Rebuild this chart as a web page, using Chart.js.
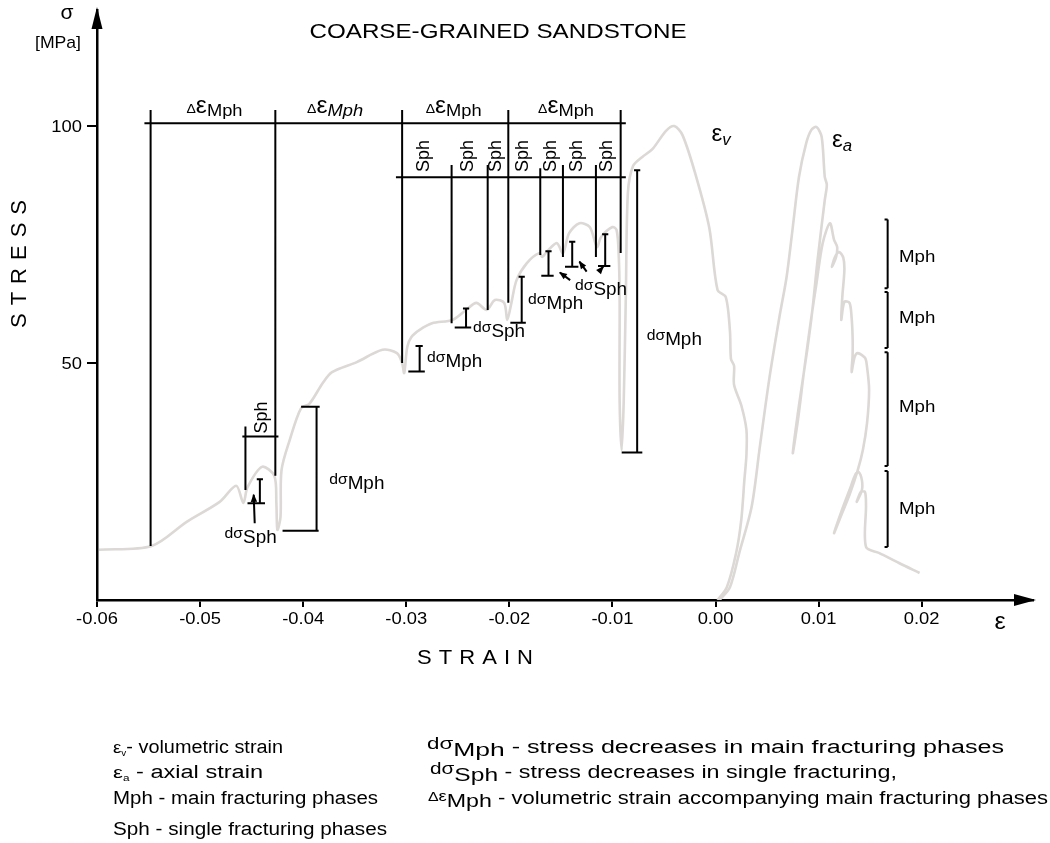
<!DOCTYPE html>
<html>
<head>
<meta charset="utf-8">
<script src="https://cdn.jsdelivr.net/npm/chart.js@4.4.1/dist/chart.umd.min.js"></script>
<style>
  html, body { margin: 0; padding: 0; background: #fff; }
</style>
</head>
<body>
<canvas id="chart" width="1050" height="843"></canvas>
<script>
// ---------- axis ticks ----------
const xTicks = [-0.06, -0.05, -0.04, -0.03, -0.02, -0.01, 0, 0.01, 0.02];
const yTicks = [50, 100];

// ---------- volumetric strain curve (εv) ----------
const evStrain = [-0.0598, -0.0547, -0.0513, -0.0481, -0.0465, -0.0458, -0.0454, -0.0440, -0.0428, -0.0426,
  -0.0425, -0.0422, -0.0421, -0.0413, -0.0402, -0.0394, -0.0381, -0.0372, -0.0348, -0.0323,
  -0.0309, -0.0304, -0.0302, -0.0299, -0.0295, -0.0287, -0.0275, -0.0255, -0.0242, -0.0232,
  -0.0222, -0.0214, -0.0205, -0.0202, -0.0198, -0.0193, -0.0183, -0.0171, -0.0168, -0.0164,
  -0.0154, -0.0148, -0.0142, -0.0132, -0.0122, -0.0115, -0.0111, -0.0100, -0.0096, -0.0094,
  -0.0093, -0.0093, -0.0091, -0.0089, -0.0087, -0.0085, -0.0080, -0.0071, -0.0061, -0.0048,
  -0.0040, -0.0032, -0.0019, -0.0006, 0.0002, 0.0010, 0.0014, 0.0015, 0.0018, 0.0018,
  0.0025, 0.0030, 0.0030, 0.0028, 0.0025, 0.0020, 0.0011, 0.0002];
const evStress = [10.6, 11.4, 16.5, 20.7, 24.1, 20.5, 23.8, 28.1, 26.2, 20.5,
  14.8, 17.5, 27.4, 33.8, 40.5, 41.4, 45.8, 48.1, 50.2, 52.8,
  52.1, 50.0, 47.9, 53.4, 55.5, 57.0, 58.4, 59.1, 61.2, 62.7,
  61.2, 63.3, 62.7, 59.1, 62.7, 67.5, 71.1, 73.2, 72.4, 73.4,
  75.3, 73.2, 77.4, 79.5, 78.7, 74.5, 76.6, 78.7, 78.1, 73.4,
  63.9, 42.2, 31.6, 42.2, 63.9, 85.9, 91.6, 93.5, 95.2, 99.0,
  100.0, 98.1, 89.5, 78.5, 65.4, 63.9, 56.8, 50.9, 49.4, 45.4,
  41.1, 35.9, 30.6, 25.3, 16.9, 9.9, 2.7, 0];

// ---------- axial strain curve (εa) ----------
const eaStrain = [0.0004, 0.0014, 0.0023, 0.0035, 0.0043, 0.0052, 0.0062, 0.0069, 0.0075, 0.0081,
  0.0088, 0.0093, 0.0098, 0.0103, 0.0106, 0.0108, 0.0106, 0.0099, 0.0094, 0.0089,
  0.0081, 0.0075, 0.0080, 0.0086, 0.0093, 0.0098, 0.0104, 0.0111, 0.0115, 0.0118,
  0.0117, 0.0113, 0.0116, 0.0120, 0.0124, 0.0125, 0.0123, 0.0122, 0.0125, 0.0130,
  0.0132, 0.0133, 0.0133, 0.0132, 0.0135, 0.0138, 0.0145, 0.0147, 0.0149, 0.0147,
  0.0143, 0.0138, 0.0130, 0.0122, 0.0115, 0.0122, 0.0130, 0.0136, 0.0139, 0.0142,
  0.0142, 0.0137, 0.0141, 0.0145, 0.0146, 0.0146, 0.0159, 0.0178, 0.0198];
const eaStress = [0, 2.7, 9.9, 19.6, 32.3, 46.4, 59.7, 68.2, 78.7, 89.3,
  96.4, 99.2, 99.8, 97.7, 89.3, 87.6, 84.4, 71.7, 61.2, 52.8,
  41.1, 31.0, 38.0, 48.5, 59.7, 66.9, 75.3, 79.5, 76.0, 74.5,
  72.4, 70.3, 72.4, 73.4, 72.2, 69.6, 63.9, 59.1, 62.9, 62.7,
  59.7, 55.5, 51.7, 48.1, 51.3, 52.1, 51.1, 49.2, 44.3, 37.3,
  31.7, 27.4, 22.2, 17.9, 14.1, 18.6, 23.2, 26.6, 27.0, 25.3,
  23.2, 20.7, 22.8, 22.8, 20.0, 11.2, 9.9, 7.8, 5.7];

// ---------- Δε Mph brackets along the top ----------
const dEpsBar = [-0.0554, -0.0087];
const dEpsBarStress = 100.6;
const dEpsEdges = [-0.0548, -0.0427, -0.0304, -0.0201, -0.0092];
const dEpsEdgeTop = 103.4;
const dEpsEdgeFoot = [11.4, 26.2, 50.0, 62.7, 73.2];
const dEpsLabelX = [-0.0486, -0.0369, -0.0254, -0.0145];
const dEpsLabelStress = 102.7;

// ---------- Sph (single fracturing) markers ----------
const sphBar = [-0.0310, -0.0087];
const sphBarStress = 89.2;
const sphEdges = [-0.0256, -0.0221, -0.0170, -0.0148, -0.0116];
const sphEdgeTop = [91.8, 91.8, 91.1, 91.8, 91.8];
const sphEdgeFoot = [58.4, 61.2, 72.8, 72.4, 72.4];
const sphLabelX = [-0.0284, -0.0241, -0.0214, -0.0188, -0.0161, -0.0135, -0.0106];
const sphLabelStress = 93.7;
const sphLeftBar = [-0.0459, -0.0424];
const sphLeftStress = 34.5;
const sphLeftEdge = -0.0456;
const sphLeftSpan = [36.6, 23.2];
const sphLeftLabel = [-0.0441, 38.5];

// ---------- stress drops dσ ----------
const dropStrain = [-0.0442, -0.0387, -0.0287, -0.0242, -0.0188, -0.0162, -0.0139, -0.0107, -0.0076];
const dropTop = [25.5, 40.8, 53.6, 61.5, 68.2, 73.6, 75.6, 77.2, 90.7];
const dropBottom = [20.4, 14.6, 48.2, 57.5, 58.5, 68.4, 70.3, 70.5, 31.1];
const dropCapFrom = [-0.0445, -0.0402, -0.0291, -0.0245, -0.0191, -0.0165, -0.0142, -0.0110, -0.0079];
const dropCapTo = [-0.0439, -0.0384, -0.0284, -0.0239, -0.0185, -0.0159, -0.0136, -0.0104, -0.0073];
const dropFootFrom = [-0.0454, -0.0420, -0.0298, -0.0253, -0.0199, -0.0169, -0.0146, -0.0114, -0.0091];
const dropFootTo = [-0.0437, -0.0385, -0.0282, -0.0237, -0.0184, -0.0157, -0.0133, -0.0102, -0.0071];
const dsLabelX = [-0.0451, -0.0348, -0.0253, -0.0210, -0.0155, -0.0111, -0.0040];
const dsLabelStress = [13.5, 24.9, 50.6, 57.0, 62.9, 65.8, 55.3];
const dsLabelKind = ['Sph', 'Mph', 'Mph', 'Sph', 'Mph', 'Sph', 'Mph'];

// small pointer arrows (tail -> head)
const arrowTail = [[-0.0447, 16.2], [-0.0141, 67.5], [-0.0125, 69.3], [-0.0113, 69.3]];
const arrowHead = [[-0.0448, 22.2], [-0.0151, 69.1], [-0.0132, 71.4], [-0.0109, 70.3]];

// ---------- Mph brackets on the right ----------
const mphStrain = 0.0167;
const mphCap = 0.0164;
const mphTop = [80.3, 65.0, 52.3, 27.2];
const mphBottom = [65.8, 53.2, 28.3, 11.2];
const mphLabelX = 0.0178;
const mphLabelStress = [72.6, 59.7, 40.9, 19.4];

// curve name labels
const evLabel = [-0.0004, 96.8];
const eaLabel = [0.0113, 95.6];

const FAMILY = '"Liberation Sans", Arial, Helvetica, sans-serif';
const SX = 1.1; // scan glyphs are a little wide
const font = (size, italic) => (italic ? 'italic ' : '') + size + 'px ' + FAMILY;

// build the black marks as one broken polyline
const marks = [];
function seg(x1, y1, x2, y2) {
    marks.push({x: x1, y: y1}, {x: x2, y: y2}, {x: x2, y: null});
}
seg(dEpsBar[0], dEpsBarStress, dEpsBar[1], dEpsBarStress);
dEpsEdges.forEach((e, i) => seg(e, dEpsEdgeTop, e, dEpsEdgeFoot[i]));
seg(sphBar[0], sphBarStress, sphBar[1], sphBarStress);
sphEdges.forEach((e, i) => seg(e, sphEdgeTop[i], e, sphEdgeFoot[i]));
seg(sphLeftBar[0], sphLeftStress, sphLeftBar[1], sphLeftStress);
seg(sphLeftEdge, sphLeftSpan[0], sphLeftEdge, sphLeftSpan[1]);
dropStrain.forEach((s, i) => {
    seg(s, dropTop[i], s, dropBottom[i]);
    seg(dropCapFrom[i], dropTop[i], dropCapTo[i], dropTop[i]);
    seg(dropFootFrom[i], dropBottom[i], dropFootTo[i], dropBottom[i]);
});
mphTop.forEach((t, i) => {
    seg(mphStrain, t, mphStrain, mphBottom[i]);
    seg(mphCap, t, mphStrain, t);
    seg(mphCap, mphBottom[i], mphStrain, mphBottom[i]);
});
arrowTail.forEach((t, i) => seg(t[0], t[1], arrowHead[i][0], arrowHead[i][1]));

// text with mixed sizes, stretched horizontally
function rich(ctx, runs, x, y, o = {}) {
    ctx.save();
    ctx.textBaseline = 'alphabetic';
    ctx.textAlign = 'left';
    let w = 0;
    const ws = runs.map(r => {
        ctx.font = font(r[1], r[3]);
        const m = ctx.measureText(r[0]).width;
        w += m;
        return m;
    });
    const k = o.width ? o.width / w : (o.sx || SX);
    const tw = w * k;
    const off = o.align === 'center' ? -tw / 2 : o.align === 'right' ? -tw : 0;
    ctx.translate(x, y);
    if (o.rot) ctx.rotate(o.rot);
    ctx.translate(off, 0);
    ctx.scale(k, 1);
    let cx = 0;
    runs.forEach((r, i) => {
        ctx.font = font(r[1], r[3]);
        ctx.fillText(r[0], cx, r[2] || 0);
        cx += ws[i];
    });
    ctx.restore();
}

function spaced(ctx, s, cx, cy, size, total, rot, sx) {
    ctx.save();
    ctx.font = font(size);
    ctx.textBaseline = 'middle';
    ctx.textAlign = 'left';
    const chars = [...s];
    const ws = chars.map(c => ctx.measureText(c).width * sx);
    const sum = ws.reduce((a, b) => a + b, 0);
    const gap = (total - sum) / (chars.length - 1);
    ctx.translate(cx, cy);
    if (rot) ctx.rotate(rot);
    let p = -total / 2;
    chars.forEach((c, i) => {
        ctx.save();
        ctx.translate(p, 0);
        ctx.scale(sx, 1);
        ctx.fillText(c, 0, 0);
        ctx.restore();
        p += ws[i] + gap;
    });
    ctx.restore();
}

const decor = {
    id: 'decor',
    afterDraw(chart) {
        const {ctx, scales: {x, y}, chartArea: a} = chart;
        const px = v => x.getPixelForValue(v);
        const py = v => y.getPixelForValue(v);
        ctx.save();
        ctx.fillStyle = '#000';

        // axis arrowheads
        ctx.beginPath();
        ctx.moveTo(a.left, a.top - 3);
        ctx.lineTo(a.left - 5.5, a.top + 19);
        ctx.lineTo(a.left + 5.5, a.top + 19);
        ctx.closePath();
        ctx.fill();
        ctx.beginPath();
        ctx.moveTo(a.right + 3, a.bottom);
        ctx.lineTo(a.right - 19, a.bottom - 6);
        ctx.lineTo(a.right - 19, a.bottom + 6);
        ctx.closePath();
        ctx.fill();

        // pointer arrowheads
        arrowHead.forEach((h, i) => {
            const t = arrowTail[i];
            const hx = px(h[0]), hy = py(h[1]);
            const ang = Math.atan2(hy - py(t[1]), hx - px(t[0]));
            ctx.save();
            ctx.translate(hx, hy);
            ctx.rotate(ang);
            ctx.beginPath();
            ctx.moveTo(1, 0);
            ctx.lineTo(-7, -3.2);
            ctx.lineTo(-7, 3.2);
            ctx.closePath();
            ctx.fill();
            ctx.restore();
        });

        // tick labels
        x.ticks.forEach(t => rich(ctx, [[t.value.toFixed(2), 17]], px(t.value), 623.5, {align: 'center', sx: 1.08}));
        y.ticks.forEach(t => rich(ctx, [[String(t.value), 17]], 82, py(t.value) + 6, {align: 'right', sx: 1.08}));

        // axis names
        rich(ctx, [['σ', 20]], 67, 19, {align: 'center', sx: 1.05});
        rich(ctx, [['[MPa]', 17]], 58, 48, {align: 'center', width: 46});
        rich(ctx, [['ε', 24]], 1000, 629, {align: 'center', sx: 1.05});
        spaced(ctx, 'STRESS', 20, 264, 22, 128, -Math.PI / 2, 1);
        spaced(ctx, 'STRAIN', 475, 658, 20, 116, 0, 1.1);
        rich(ctx, [['COARSE-GRAINED SANDSTONE', 21]], 498, 38, {align: 'center', width: 377});

        // Δε Mph labels
        dEpsLabelX.forEach((v, i) => {
            rich(ctx, [['Δ', 13], ['ε', 23], ['Mph', 17, 3, i === 1]], px(v), py(dEpsLabelStress),
                {align: 'center', width: 56});
        });
        // Sph labels (rotated)
        sphLabelX.forEach(v => rich(ctx, [['Sph', 18, 6]], px(v), py(sphLabelStress),
            {align: 'center', rot: -Math.PI / 2, width: 32}));
        rich(ctx, [['Sph', 18, 6]], px(sphLeftLabel[0]), py(sphLeftLabel[1]),
            {align: 'center', rot: -Math.PI / 2, width: 32});
        // dσ labels
        dsLabelX.forEach((v, i) => {
            rich(ctx, [['dσ', 15, -5], [dsLabelKind[i], 18]], px(v), py(dsLabelStress[i]) + 7,
                {align: 'center', sx: 1.05});
        });
        // Mph labels on the right
        mphLabelStress.forEach(s => rich(ctx, [['Mph', 17]], px(mphLabelX), py(s) + 6, {sx: 1.1}));
        // curve names
        rich(ctx, [['ε', 23], ['v', 16, 4, true]], px(evLabel[0]), py(evLabel[1]), {sx: 1.05});
        rich(ctx, [['ε', 23], ['a', 16, 4, true]], px(eaLabel[0]), py(eaLabel[1]), {sx: 1.05});

        // explanation block
        rich(ctx, [['ε', 17], ['v', 9, 3], ['- volumetric strain', 18]], 113, 753, {width: 170});
        rich(ctx, [['ε', 17], ['a', 9, 3], [' - axial strain', 18]], 113, 778, {width: 150});
        rich(ctx, [['Mph - main fracturing phases', 18]], 113, 804, {width: 265});
        rich(ctx, [['Sph - single fracturing phases', 18]], 113, 835, {width: 274});
        rich(ctx, [['dσ', 16, -4], ['Mph', 19, 3], [' - stress decreases in main fracturing phases', 18]],
            427, 753, {width: 577});
        rich(ctx, [['dσ', 16, -4], ['Sph', 19, 3], [' - stress decreases in single fracturing,', 18]],
            430, 778, {width: 467});
        rich(ctx, [['Δ', 13, -3], ['ε', 15, -3], ['Mph', 19, 3],
            [' - volumetric strain accompanying main fracturing phases', 18]], 428, 804, {width: 620});

        ctx.restore();
    }
};

const curveColor = '#dbd8d5';

new Chart(document.getElementById('chart'), {
    type: 'line',
    data: {
        datasets: [{
            label: 'marks',
            data: marks,
            borderColor: '#000',
            borderWidth: 2,
            pointRadius: 0,
            tension: 0,
            spanGaps: false,
            order: 1
        }, {
            label: 'εv',
            data: evStrain.map((v, i) => ({x: v, y: evStress[i]})),
            borderColor: curveColor,
            borderWidth: 2.6,
            pointRadius: 0,
            tension: 0.3,
            order: 2
        }, {
            label: 'εa',
            data: eaStrain.map((v, i) => ({x: v, y: eaStress[i]})),
            borderColor: curveColor,
            borderWidth: 2.6,
            pointRadius: 0,
            tension: 0.3,
            order: 2
        }]
    },
    options: {
        responsive: false,
        animation: false,
        devicePixelRatio: 1,
        layout: {padding: {top: 10, right: 17, left: 0, bottom: 0}},
        plugins: {legend: {display: false}, tooltip: {enabled: false}},
        scales: {
            x: {
                type: 'linear',
                min: -0.06,
                max: 0.0308,
                afterBuildTicks: s => { s.ticks = xTicks.map(v => ({value: v})); },
                afterFit: s => { s.height = 243; },
                ticks: {display: false},
                grid: {drawOnChartArea: false, drawTicks: true, tickLength: 7, color: '#000', lineWidth: 2},
                border: {display: true, color: '#000', width: 2.5}
            },
            y: {
                type: 'linear',
                min: 0,
                max: 124.5,
                afterBuildTicks: s => { s.ticks = yTicks.map(v => ({value: v})); },
                afterFit: s => { s.width = 97; },
                ticks: {display: false},
                grid: {drawOnChartArea: false, drawTicks: true, tickLength: 10, color: '#000', lineWidth: 2},
                border: {display: true, color: '#000', width: 2.5}
            }
        }
    },
    plugins: [decor]
});
</script>
</body>
</html>
